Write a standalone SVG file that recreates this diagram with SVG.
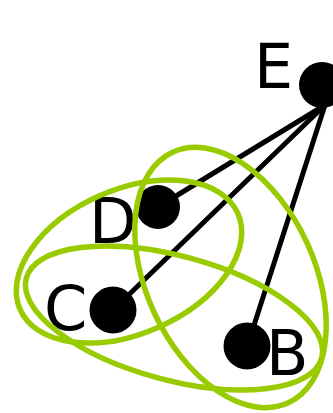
<svg xmlns="http://www.w3.org/2000/svg" width="333" height="413" viewBox="0 0 333 413">
  <style>
    .edge { stroke: #000; stroke-width: 5; stroke-linecap: round; fill: none; }
    .node { fill: #000; }
    .label { font-family: "DejaVu Sans", sans-serif; font-size: 62px; fill: #000; }
    .set { fill: none; stroke: #99cc00; stroke-width: 5.5; }
  </style>
  <rect width="333" height="413" fill="#fff"/>

  <!-- edges from E -->
  <g id="edges">
    <line class="edge" x1="325" y1="105" x2="158" y2="207"/>
    <line class="edge" x1="325" y1="105" x2="113" y2="310"/>
    <line class="edge" x1="325" y1="105" x2="247" y2="347"/>
  </g>

  <g id="node-E">
    <circle class="node" cx="322" cy="85" r="23"/>
    <text class="label" x="254" y="88">E</text>
  </g>
  <g id="node-D">
    <circle class="node" cx="158" cy="207" r="22"/>
    <text class="label" x="89" y="243">D</text>
  </g>
  <g id="node-C">
    <circle class="node" cx="113" cy="310" r="23.5"/>
    <text class="label" x="44" y="330">C</text>
  </g>
  <g id="node-B">
    <circle class="node" cx="247" cy="346" r="23.5"/>
    <text class="label" x="266" y="375">B</text>
  </g>

  <!-- hyperedge outlines -->
  <g id="sets">
    <ellipse id="set-CD" class="set" cx="129" cy="261.5" rx="119" ry="72" transform="rotate(-23.7 129 261.5)"/>
    <ellipse id="set-BC" class="set" cx="174" cy="318" rx="153" ry="62" transform="rotate(15.1 174 318)"/>
    <ellipse id="set-BD" class="set" cx="230.5" cy="277.5" rx="138" ry="84" transform="rotate(65.2 230.5 277.5)"/>
  </g>
</svg>
